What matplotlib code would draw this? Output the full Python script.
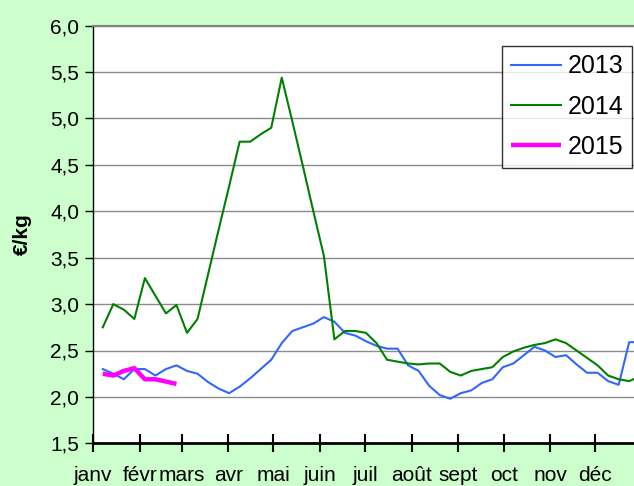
import matplotlib
matplotlib.use('Agg')
import matplotlib.pyplot as plt
from matplotlib.ticker import FuncFormatter, MultipleLocator

plt.rcParams['font.family'] = ['Liberation Sans', 'DejaVu Sans']

# weekly prices (EUR/kg), week 1 = first week of January
weeks_2013 = list(range(1, 53))
prix_2013 = [2.30, 2.25, 2.19, 2.30, 2.30, 2.23, 2.30, 2.34, 2.28, 2.25,
             2.16, 2.09, 2.04, 2.11, 2.20, 2.30, 2.40, 2.58, 2.71, 2.75,
             2.79, 2.86, 2.81, 2.69, 2.66, 2.60, 2.55, 2.52, 2.52, 2.34,
             2.28, 2.12, 2.02, 1.98, 2.04, 2.07, 2.15, 2.19, 2.32, 2.36,
             2.45, 2.54, 2.50, 2.43, 2.45, 2.35, 2.26, 2.26, 2.17, 2.13,
             2.59, 2.59]
weeks_2014 = list(range(1, 53))
prix_2014 = [2.75, 3.00, 2.94, 2.84, 3.28, 3.09, 2.90, 2.99, 2.69, 2.84,
             3.32, 3.80, 4.27, 4.75, 4.75, 4.83, 4.90, 5.44, 4.97, 4.49,
             4.00, 3.52, 2.62, 2.71, 2.71, 2.69, 2.58, 2.40, 2.38, 2.36,
             2.35, 2.36, 2.36, 2.27, 2.23, 2.28, 2.30, 2.32, 2.43, 2.49,
             2.53, 2.56, 2.58, 2.62, 2.58, 2.50, 2.42, 2.34, 2.23, 2.19,
             2.17, 2.22]
weeks_2015 = list(range(1, 9))
prix_2015 = [2.25, 2.23, 2.28, 2.31, 2.19, 2.19, 2.165, 2.14]

mois = ['janv', 'févr', 'mars', 'avr', 'mai', 'juin', 'juil', 'août',
        'sept', 'oct', 'nov', 'déc']
debut_mois = [0, 31, 59, 90, 120, 151, 181, 212, 243, 273, 304, 334]


def jour(weeks):
    # week number -> day of year (middle of the week)
    return [7 * w - 0.5 for w in weeks]


fig = plt.figure(figsize=(6.34, 4.86), dpi=100, facecolor='#CCFFCC')
W, H = 634.0, 486.0
ax = fig.add_axes([93 / W, 42.7 / H, 556.5 / W, 417.6 / H])
ax.set_facecolor('white')

ax.plot(jour(weeks_2013), prix_2013, color='#3366FF', lw=1.5, label='2013')
ax.plot(jour(weeks_2014), prix_2014, color='#008000', lw=1.5, label='2014')
ax.plot(jour(weeks_2015), prix_2015, color='#FF00FF', lw=3.2, label='2015',
        solid_capstyle='butt')

ax.set_xlim(0, 370)
ax.set_ylim(1.5, 6.0)
ax.yaxis.set_major_locator(MultipleLocator(0.5))
ax.yaxis.set_major_formatter(FuncFormatter(lambda v, p: ('%.1f' % v).replace('.', ',')))
ax.grid(axis='y', color='#8C8C8C', lw=1.0)
ax.set_axisbelow(True)

ax.set_xticks(debut_mois)
ax.set_xticklabels(mois)
ax.tick_params(axis='x', direction='inout', length=13, width=1.5, color='black',
               labelsize=15, pad=10)
ax.tick_params(axis='y', direction='out', length=6, width=1.0, color='black',
               labelsize=15, pad=4)

ax.spines['right'].set_visible(False)
ax.spines['top'].set_color('#808080')
ax.spines['top'].set_linewidth(1.5)
ax.spines['left'].set_color('black')
ax.spines['left'].set_linewidth(1.0)
ax.spines['bottom'].set_color('black')
ax.spines['bottom'].set_linewidth(2.0)

ax.set_ylabel('€/kg', fontsize=15, fontweight='bold', labelpad=13)

leg = ax.legend(loc='upper left', bbox_to_anchor=(502.3 / W, 1 - 45.7 / H),
                bbox_transform=fig.transFigure, fontsize=18, frameon=True,
                fancybox=False, borderpad=0.35, handlelength=2.0,
                handletextpad=0.25, labelspacing=0.65, borderaxespad=0)
leg.get_frame().set_edgecolor('black')
leg.get_frame().set_linewidth(1.0)

fig.savefig('out.png', dpi=100, facecolor=fig.get_facecolor())
